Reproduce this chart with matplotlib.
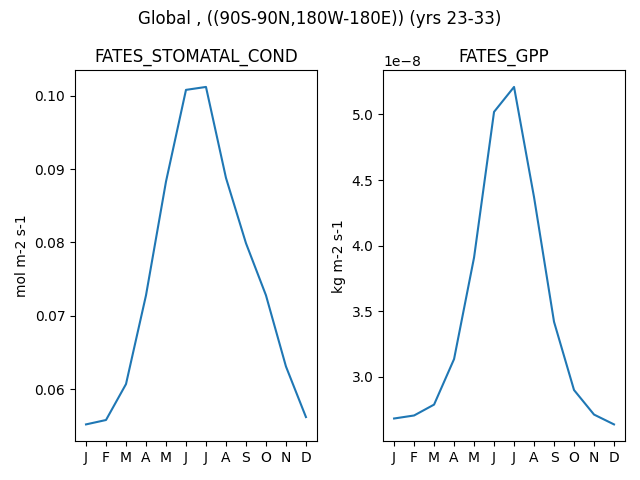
import matplotlib
matplotlib.use("Agg")
import matplotlib.pyplot as plt

months = ["J","F","M","A","M","J","J","A","S","O","N","D"]
stomatal = [0.0552,0.0558,0.0607,0.0728,0.0883,0.1008,0.1012,0.0888,0.0799,0.0728,0.0631,0.0562]
gpp = [2.683,2.706,2.789,3.136,3.91,5.02,5.21,4.37,3.42,2.90,2.713,2.638]
gpp = [v*1e-8 for v in gpp]

fig, axes = plt.subplots(1, 2, figsize=(6.4, 4.8), dpi=100)
x = list(range(12))
for ax, vals, title, unit in [(axes[0], stomatal, "FATES_STOMATAL_COND", "mol m-2 s-1"),
                              (axes[1], gpp, "FATES_GPP", "kg m-2 s-1")]:
    ax.plot(x, vals)
    ax.set_title(title)
    ax.set_ylabel(unit)
    ax.set_xticks(x)
    ax.set_xticklabels(months)
fig.suptitle("Global , ((90S-90N,180W-180E)) (yrs 23-33)")
fig.tight_layout()
fig.savefig("out.png")
